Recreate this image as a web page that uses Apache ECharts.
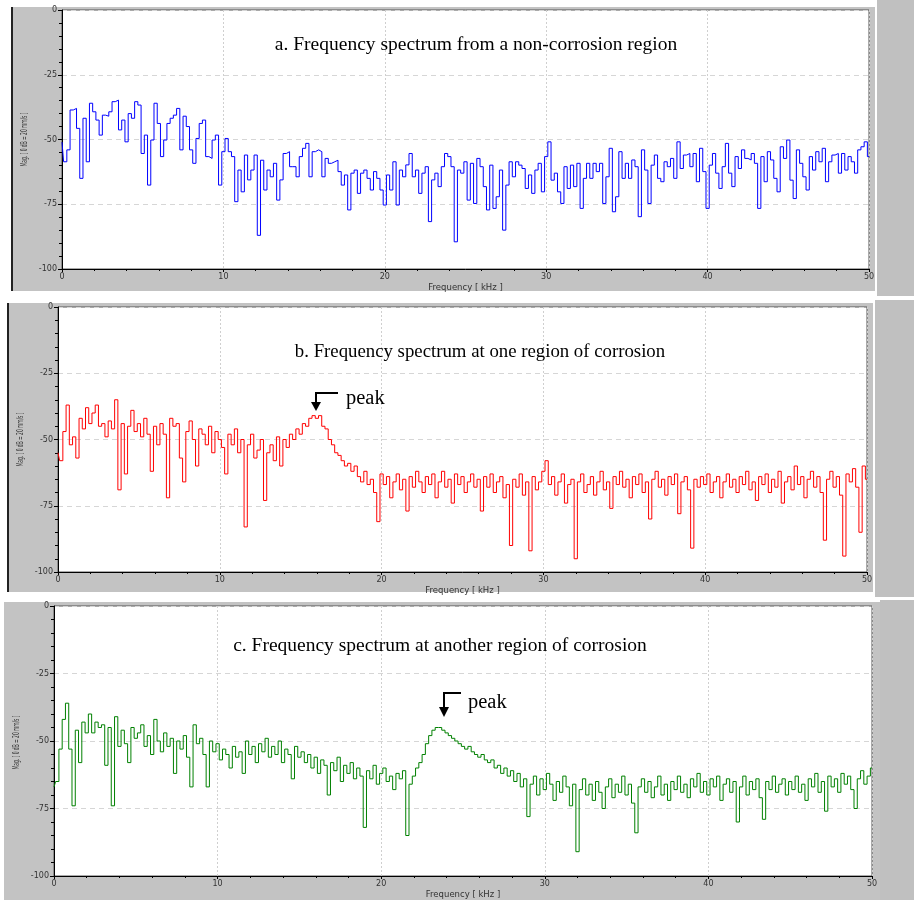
<!DOCTYPE html>
<html><head><meta charset="utf-8">
<script src="https://cdn.jsdelivr.net/npm/echarts@6.0.0/dist/echarts.min.js"></script>
<style>html,body{margin:0;padding:0;background:#fff}#c{width:914px;height:900px}</style>
</head><body><div id="c"></div>
<script>
// frequency grid (kHz): 0 .. 50 in steps of 0.2
const stepKHz = 0.2;
const xTicks = [0, 10, 20, 30, 40, 50];
const yTicks = [0, -25, -50, -75, -100];

// a. non-corrosion region (dB)
const magA = [
-51,-58.6,-54,-38.6,-38,-45.7,-65,-41.8,-58.6,-36,
-39.3,-42.5,-48.3,-40.6,-41,-39.3,-35.4,-34.8,-46.3,-42.5,
-50.9,-40,-41.8,-35.4,-36.7,-55.4,-48.3,-67.6,-50.2,-36,
-43.8,-56.6,-50.2,-43.8,-41.8,-40.6,-38,-54,-41,-45,
-54,-59.2,-49.6,-43.8,-42.5,-56.6,-57.3,-50.2,-48.3,-67.6,
-54.7,-49.6,-54.7,-56.6,-74,-61.8,-70.2,-56,-65.6,-61.8,
-56,-87,-58,-69.5,-61.8,-64.4,-59.2,-73.4,-65.6,-55.4,
-54.7,-60.5,-60.5,-64.4,-56.6,-53.4,-51.5,-64.4,-54.7,-54,
-54.7,-64.4,-57.3,-59.2,-58.6,-58,-62.4,-67.6,-63.7,-77.2,
-63,-61.8,-70.8,-63,-61.8,-65,-69.5,-62.4,-65,-69.5,
-75.3,-63.7,-69.5,-58.6,-75.3,-61.8,-64.4,-59.8,-55.4,-64.4,
-61.8,-70.8,-63,-60.5,-81.7,-65.6,-63,-68.2,-60.5,-55.4,
-56.6,-60.5,-89.5,-61.8,-63,-58.6,-73.4,-59.2,-74.7,-57.3,
-60.5,-68.2,-77.2,-59.9,-76.6,-72.1,-61.8,-85,-67.6,-58.6,
-64.4,-58.6,-59.9,-61.2,-68.9,-63.7,-70.8,-61.8,-59.2,-70.2,
-56.6,-50.9,-65.7,-63,-70.2,-74.7,-60.5,-68.9,-59.9,-68.2,
-59.2,-76.6,-65,-59.2,-65,-59.2,-62.4,-59.2,-74.7,-64.4,
-53.4,-77.9,-72.1,-54.7,-65,-59.2,-65,-57.9,-60.5,-79.8,
-54,-61.8,-74.7,-59.9,-56,-65,-66.3,-58.6,-60.5,-57.3,
-65,-50.9,-61.2,-56,-55.4,-60.5,-55.4,-66.3,-53.4,-62.4,
-76.6,-59.9,-55.4,-63,-68.9,-60.5,-51.5,-63,-68.2,-56.6,
-61.2,-54,-57.3,-57.9,-55.4,-59.2,-76.6,-56.6,-66.3,-54.7,
-57.9,-65,-70.2,-52.8,-57.3,-50.2,-65.7,-72.8,-54,-59.2,
-64.4,-69.5,-56.6,-61.8,-54.7,-58.6,-53.4,-66.3,-58.6,-56,
-55.4,-63,-55.4,-61.8,-56.6,-58.6,-63,-54,-52.8,-50.9,
-56.6
];

// b. one region of corrosion (dB)
const magB = [
-55,-58,-47,-37,-52,-49,-57,-42,-46,-38,
-44,-40,-37,-45,-44,-49,-43,-46,-35,-69,
-44,-63,-45,-39,-47,-44,-49,-42,-48,-62,
-45,-52,-44,-48,-72,-42,-45,-44,-57,-66,
-47,-43,-50,-60,-46,-48,-52,-45,-55,-47,
-50,-53,-63,-48,-52,-46,-55,-50,-83,-52,
-48,-57,-54,-50,-73,-55,-52,-58,-49,-60,
-50,-53,-48,-50,-46,-48,-44,-45,-42,-41,
-42,-41,-45,-46,-50,-52,-55,-56,-58,-60,
-59,-62,-60,-64,-66,-62,-67,-65,-70,-81,
-63,-67,-64,-72,-66,-63,-69,-65,-77,-64,
-68,-62,-66,-70,-64,-67,-63,-72,-66,-62,
-68,-65,-74,-63,-67,-64,-70,-66,-63,-68,
-65,-77,-64,-68,-63,-70,-66,-64,-72,-67,
-90,-65,-68,-63,-71,-66,-92,-64,-69,-66,
-62,-58,-67,-64,-71,-66,-63,-74,-67,-65,
-95,-66,-63,-70,-67,-64,-71,-66,-62,-69,
-66,-76,-64,-67,-62,-68,-65,-72,-64,-67,
-63,-70,-66,-80,-65,-62,-68,-65,-71,-64,
-67,-63,-78,-66,-64,-69,-91,-65,-68,-64,
-67,-63,-70,-66,-64,-72,-66,-63,-68,-65,
-70,-64,-67,-62,-69,-66,-73,-64,-67,-63,
-70,-65,-68,-62,-74,-66,-64,-69,-60,-67,
-64,-72,-65,-62,-68,-64,-70,-88,-65,-62,
-68,-64,-71,-94,-63,-66,-61,-68,-85,-60,
-65
];

// c. another region of corrosion (dB)
const magC = [
-67,-65,-53,-42,-36,-53,-74,-46,-58,-43,
-47,-40,-47,-43,-45,-44,-59,-45,-74,-41,
-52,-46,-51,-58,-45,-49,-47,-44,-52,-48,
-55,-42,-50,-54,-47,-52,-49,-62,-50,-53,
-48,-56,-67,-44,-51,-49,-55,-67,-50,-54,
-51,-57,-53,-55,-60,-52,-56,-54,-62,-50,
-55,-52,-58,-51,-54,-49,-56,-52,-55,-50,
-58,-53,-55,-64,-52,-56,-54,-58,-55,-60,
-56,-62,-57,-59,-70,-58,-61,-56,-65,-59,
-62,-58,-64,-60,-63,-82,-61,-64,-59,-66,
-62,-60,-65,-63,-68,-62,-64,-61,-85,-66,
-63,-60,-58,-55,-51,-48,-46,-45,-45,-46,
-47,-48,-49,-50,-51,-52,-53,-52,-54,-55,
-56,-55,-57,-58,-57,-60,-59,-62,-60,-63,
-61,-65,-62,-67,-64,-78,-66,-63,-70,-64,
-68,-62,-66,-72,-65,-69,-63,-67,-74,-66,
-91,-68,-64,-70,-66,-72,-65,-69,-75,-67,
-64,-71,-66,-69,-63,-70,-66,-73,-84,-67,
-64,-69,-65,-71,-67,-63,-70,-66,-72,-65,
-68,-63,-69,-66,-71,-64,-67,-62,-69,-65,
-70,-64,-67,-63,-72,-66,-64,-69,-65,-80,
-67,-63,-70,-65,-68,-64,-71,-79,-65,-68,
-63,-69,-66,-64,-70,-65,-68,-63,-69,-66,
-72,-64,-67,-62,-69,-65,-76,-63,-67,-64,
-69,-62,-66,-63,-68,-75,-64,-61,-66,-63,
-60
];

const titleTexts = [
  'a. Frequency spectrum from a non-corrosion region',
  'b. Frequency spectrum at one region of corrosion',
  'c. Frequency spectrum at another region of corrosion'
];
const xName = 'Frequency [ kHz ]';
const yName = 'Mag. [ 0 dB = 20 mm/s ]';
const peakLabel = 'peak';

const freqs = magA.map((_, i) => +(i * stepKHz).toFixed(1));

const panels = [
  {mag: magA, color: '#0000ff', grid: {left: 62, top: 10, width: 807, height: 259},
   bg: [11, 7, 864, 284], strip: [877, 0, 37, 296], border: true, title: [476, 45, 19.5], peak: null},
  {mag: magB, color: '#ff0000', grid: {left: 58, top: 307, width: 809, height: 265},
   bg: [7, 303, 866, 289], strip: [875, 300, 39, 297], border: true, title: [480, 352, 18.8],
   peak: {x: 316, y: 393, hx: 338, headTop: 402, tip: 411, tx: 346, ty: 399}},
  {mag: magC, color: '#008000', grid: {left: 54, top: 606, width: 818, height: 273},
   bg: [4, 602, 876, 298], strip: [880, 600, 34, 300], border: false, title: [440, 646, 19.5],
   peak: {x: 444, y: 693, hx: 461, headTop: 707, tip: 717, tx: 468, ty: 703}}
];

// measure the y-axis name to compress it like the narrow original font
const meas = document.createElement('canvas').getContext('2d');
meas.font = '8px "DejaVu Sans"';
const yNameScale = 54 / meas.measureText(yName).width;

const grids = [], xAxes = [], yAxes = [], series = [], graphics = [];
const axisLabelStyle = {fontFamily: 'DejaVu Sans', fontSize: 8, color: '#333'};

panels.forEach((p, k) => {
  grids.push(Object.assign({show: true, backgroundColor: '#ffffff', borderColor: '#555', borderWidth: 1}, p.grid));
  xAxes.push({
    type: 'value', gridIndex: k, min: xTicks[0], max: xTicks[xTicks.length - 1], interval: 10,
    name: xName, nameLocation: 'middle', nameGap: 14,
    nameTextStyle: {fontFamily: 'DejaVu Sans', fontSize: 8.5, color: '#333'},
    axisLine: {show: true, onZero: false, lineStyle: {color: '#000', width: 1}},
    axisTick: {show: true, length: 3, lineStyle: {color: '#000'}},
    minorTick: {show: true, splitNumber: 5, length: 2, lineStyle: {color: '#000'}},
    axisLabel: Object.assign({margin: 4}, axisLabelStyle),
    splitLine: {show: true, lineStyle: {color: '#cfcfcf', type: [2, 2], width: 1}}
  });
  yAxes.push({
    type: 'value', gridIndex: k, min: yTicks[yTicks.length - 1], max: yTicks[0], interval: 25,
    axisLine: {show: true, onZero: false, lineStyle: {color: '#000', width: 1}},
    axisTick: {show: true, length: 4, lineStyle: {color: '#000'}},
    minorTick: {show: true, splitNumber: 5, length: 3, lineStyle: {color: '#000'}},
    axisLabel: Object.assign({margin: 5}, axisLabelStyle),
    splitLine: {show: true, lineStyle: {color: '#d6d6d6', type: [5, 4], width: 1}}
  });
  series.push({
    type: 'line', xAxisIndex: k, yAxisIndex: k, step: 'middle', showSymbol: false, symbol: 'none',
    lineStyle: {color: p.color, width: 1}, itemStyle: {color: p.color},
    data: freqs.map((f, i) => [f, p.mag[i]]), animation: false, z: 3
  });
  graphics.push({type: 'rect', z: -10, shape: {x: p.bg[0], y: p.bg[1], width: p.bg[2], height: p.bg[3]}, style: {fill: '#c3c3c3'}});
  graphics.push({type: 'rect', z: -10, shape: {x: p.strip[0], y: p.strip[1], width: p.strip[2], height: p.strip[3]}, style: {fill: '#c0c0c0'}});
  if (p.border) graphics.push({type: 'rect', z: -9, shape: {x: p.bg[0], y: p.bg[1], width: 2, height: p.bg[3]}, style: {fill: '#222'}});
  // y-axis name (condensed, rotated)
  graphics.push({type: 'text', z: 100, x: p.grid.left - 37.5, y: p.grid.top + p.grid.height / 2,
    rotation: Math.PI / 2, scaleX: yNameScale, scaleY: 1,
    style: {text: yName, align: 'center', verticalAlign: 'middle', fontFamily: 'DejaVu Sans', fontSize: 8, fill: '#333'}});
  graphics.push({type: 'text', z: 100, x: p.title[0], y: p.title[1],
    style: {text: titleTexts[k], align: 'center', verticalAlign: 'middle', fontFamily: 'Liberation Serif', fontSize: p.title[2], fill: '#000'}});
  if (p.peak) {
    const q = p.peak;
    graphics.push({type: 'polyline', z: 100, shape: {points: [[q.hx, q.y], [q.x, q.y], [q.x, q.headTop + 1]]}, style: {stroke: '#000', lineWidth: 2, fill: null}});
    graphics.push({type: 'polygon', z: 100, shape: {points: [[q.x - 5, q.headTop], [q.x + 5, q.headTop], [q.x, q.tip]]}, style: {fill: '#000'}});
    graphics.push({type: 'text', z: 100, x: q.tx, y: q.ty,
      style: {text: peakLabel, align: 'left', verticalAlign: 'middle', fontFamily: 'Liberation Serif', fontSize: 20.5, fill: '#000'}});
  }
});

const chart = echarts.init(document.getElementById('c'), null, {renderer: 'canvas'});
chart.setOption({
  backgroundColor: '#ffffff',
  animation: false,
  grid: grids, xAxis: xAxes, yAxis: yAxes, series: series, graphic: graphics
});
</script>
</body></html>
